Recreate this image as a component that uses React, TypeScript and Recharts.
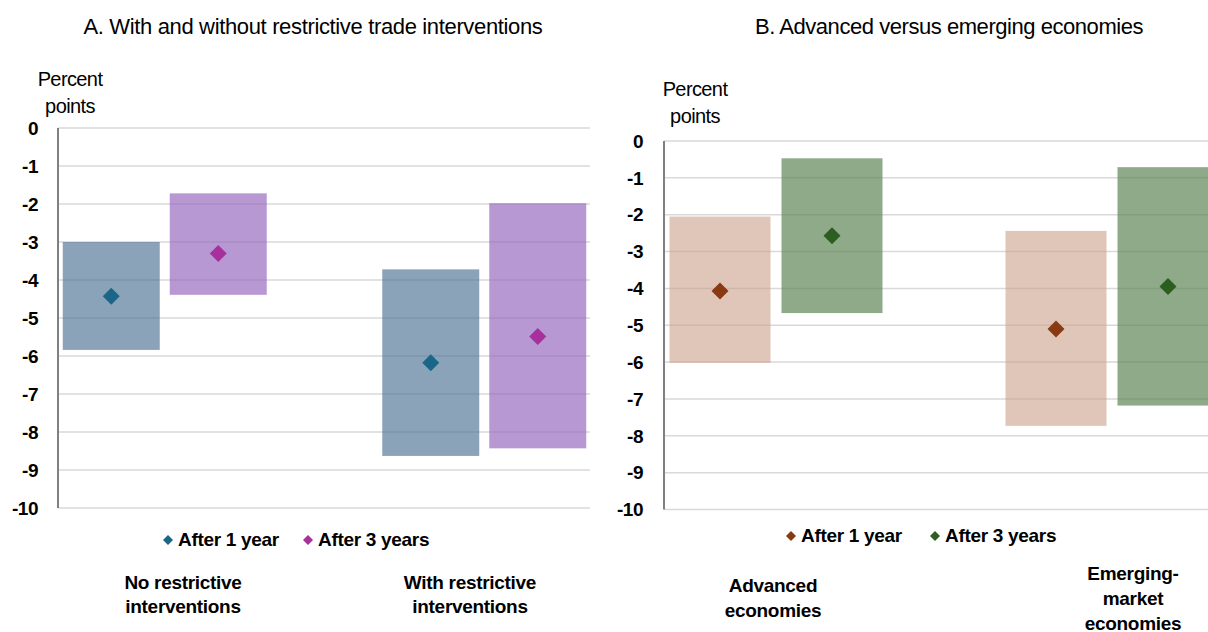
import React from 'react';
import { BarChart, Bar, XAxis, YAxis, CartesianGrid } from 'recharts';

const FONT = '"Liberation Sans", Arial, Helvetica, sans-serif';

const yTicks = [0, -1, -2, -3, -4, -5, -6, -7, -8, -9, -10];
const seriesNames = ['After 1 year', 'After 3 years'];

// Panel A
const aTitle = 'A. With and without restrictive trade interventions';
const aCategories = ['No restrictive interventions', 'With restrictive interventions'];
const aCategoryLines = [['No restrictive', 'interventions'], ['With restrictive', 'interventions']];
const aOneYearPoint = [-4.43, -6.18];
const aOneYearLow = [-5.84, -8.63];
const aOneYearHigh = [-3.0, -3.72];
const aThreeYearPoint = [-3.3, -5.49];
const aThreeYearLow = [-4.39, -8.43];
const aThreeYearHigh = [-1.72, -1.98];

// Panel B
const bTitle = 'B. Advanced versus emerging economies';
const bCategories = ['Advanced economies', 'Emerging-market economies'];
const bCategoryLines = [['Advanced', 'economies'], ['Emerging-', 'market', 'economies']];
const bOneYearPoint = [-4.07, -5.1];
const bOneYearLow = [-6.02, -7.73];
const bOneYearHigh = [-2.05, -2.44];
const bThreeYearPoint = [-2.57, -3.95];
const bThreeYearLow = [-4.67, -7.18];
const bThreeYearHigh = [-0.47, -0.71];

const yLabelLines = ['Percent', 'points'];

const buildRows = (
  cats: string[],
  p1: number[], l1: number[], h1: number[],
  p3: number[], l3: number[], h3: number[]
) =>
  cats.map((name, i) => ({
    name,
    onePt: p1[i], oneLow: l1[i], oneHigh: h1[i],
    threePt: p3[i], threeLow: l3[i], threeHigh: h3[i],
  }));

const aData = buildRows(aCategories, aOneYearPoint, aOneYearLow, aOneYearHigh, aThreeYearPoint, aThreeYearLow, aThreeYearHigh);
const bData = buildRows(bCategories, bOneYearPoint, bOneYearLow, bOneYearHigh, bThreeYearPoint, bThreeYearLow, bThreeYearHigh);

const rangeShape = (
  fill: string, opacity: number, marker: string,
  ptKey: string, lowKey: string, highKey: string, r: number
) => (props: any) => {
  const { x, y, width, height, payload } = props;
  const top = Math.min(y, y + height);
  const h = Math.abs(height);
  const lo = payload[lowKey];
  const hi = payload[highKey];
  const pt = payload[ptKey];
  const py = top + ((hi - pt) / (hi - lo)) * h;
  const cx = x + width / 2;
  return (
    <g>
      <rect x={x} y={top} width={width} height={h} fill={fill} fillOpacity={opacity} />
      <path d={`M${cx},${py - r} L${cx + r},${py} L${cx},${py + r} L${cx - r},${py} Z`} fill={marker} />
    </g>
  );
};

const tickStyle = { fontSize: 19, fontWeight: 700, fill: '#000', fontFamily: FONT, letterSpacing: -0.5 };

const Diamond = ({ color }: { color: string }) => (
  <svg width={12} height={12} style={{ display: 'block' }}>
    <path d="M6,1 L11,6 L6,11 L1,6 Z" fill={color} />
  </svg>
);

const textBase: React.CSSProperties = {
  position: 'absolute',
  fontFamily: FONT,
  color: '#000',
  whiteSpace: 'nowrap',
};

const A1 = { bar: '#4f7393', marker: '#1b6688' };
const A3 = { bar: '#9a6cc0', marker: '#a8309c' };
const B1 = { bar: '#cba08a', marker: '#8a3a12' };
const B3 = { bar: '#5f8656', marker: '#2c5e22' };

export default function App() {
  return (
    <div style={{ position: 'relative', width: 1208, height: 632, background: '#fff', overflow: 'hidden', fontFamily: FONT }}>
      <style>{`body{margin:0;}`}</style>

      {/* Titles */}
      <div style={{ ...textBase, left: 0, width: 626, top: 14, textAlign: 'center', fontSize: 22, lineHeight: '26px', letterSpacing: -0.35 }}>{aTitle}</div>
      <div style={{ ...textBase, left: 649, width: 600, top: 14, textAlign: 'center', fontSize: 22, lineHeight: '26px', letterSpacing: -0.45 }}>{bTitle}</div>

      {/* Y-axis unit labels */}
      <div style={{ ...textBase, left: 20, width: 100, top: 66, textAlign: 'center', fontSize: 20, lineHeight: '27px', letterSpacing: -0.6 }}>
        {yLabelLines.map((l) => <div key={l}>{l}</div>)}
      </div>
      <div style={{ ...textBase, left: 645, width: 100, top: 76, textAlign: 'center', fontSize: 20, lineHeight: '27px', letterSpacing: -0.6 }}>
        {yLabelLines.map((l) => <div key={l}>{l}</div>)}
      </div>

      {/* Panel A */}
      <div style={{ position: 'absolute', left: 0, top: 0 }}>
        <BarChart width={600} height={520} data={aData} margin={{ top: 128, right: 10, bottom: 12, left: 0 }} barGap={10} barSize={97}>
          <CartesianGrid horizontal vertical={false} stroke="#d9d9d9" strokeWidth={1.5} />
          <XAxis dataKey="name" type="category" hide padding={{ left: -53.25, right: -53.75 }} />
          <YAxis
            type="number"
            domain={[-10, 0]}
            ticks={yTicks}
            interval={0}
            width={58}
            axisLine={{ stroke: '#808080', strokeWidth: 2 }}
            tickLine={false}
            tickSize={0}
            tickMargin={20}
            tick={tickStyle}
          />
          <Bar
            dataKey={(d: any) => [d.oneLow, d.oneHigh]}
            name={seriesNames[0]}
            isAnimationActive={false}
            shape={rangeShape(A1.bar, 0.66, A1.marker, 'onePt', 'oneLow', 'oneHigh', 8.5)}
          />
          <Bar
            dataKey={(d: any) => [d.threeLow, d.threeHigh]}
            name={seriesNames[1]}
            isAnimationActive={false}
            shape={rangeShape(A3.bar, 0.7, A3.marker, 'threePt', 'threeLow', 'threeHigh', 8.5)}
          />
        </BarChart>
      </div>

      {/* Panel B */}
      <div style={{ position: 'absolute', left: 600, top: 0 }}>
        <BarChart width={608} height={520} data={bData} margin={{ top: 141, right: 0, bottom: 10.5, left: 0 }} barGap={11} barSize={101}>
          <CartesianGrid horizontal vertical={false} stroke="#d9d9d9" strokeWidth={1.5} />
          <XAxis dataKey="name" type="category" hide padding={{ left: -56.5, right: -71.5 }} />
          <YAxis
            type="number"
            domain={[-10, 0]}
            ticks={yTicks}
            interval={0}
            width={64}
            axisLine={{ stroke: '#808080', strokeWidth: 2 }}
            tickLine={false}
            tickSize={0}
            tickMargin={21}
            tick={tickStyle}
          />
          <Bar
            dataKey={(d: any) => [d.oneLow, d.oneHigh]}
            name={seriesNames[0]}
            isAnimationActive={false}
            shape={rangeShape(B1.bar, 0.6, B1.marker, 'onePt', 'oneLow', 'oneHigh', 8.5)}
          />
          <Bar
            dataKey={(d: any) => [d.threeLow, d.threeHigh]}
            name={seriesNames[1]}
            isAnimationActive={false}
            shape={rangeShape(B3.bar, 0.7, B3.marker, 'threePt', 'threeLow', 'threeHigh', 8.5)}
          />
        </BarChart>
      </div>

      {/* Legends */}
      {[
        { x: 162, y: 534, c: A1.marker, t: seriesNames[0] },
        { x: 302, y: 534, c: A3.marker, t: seriesNames[1] },
        { x: 785, y: 530, c: B1.marker, t: seriesNames[0] },
        { x: 929, y: 530, c: B3.marker, t: seriesNames[1] },
      ].map((it, i) => (
        <div key={i} style={{ position: 'absolute', left: it.x, top: it.y, display: 'flex', alignItems: 'center', gap: 4 }}>
          <Diamond color={it.c} />
          <span style={{ fontFamily: FONT, fontWeight: 700, fontSize: 19, letterSpacing: -0.3, lineHeight: '12px', whiteSpace: 'nowrap' }}>{it.t}</span>
        </div>
      ))}

      {/* Category labels */}
      {[
        { cx: 183, top: 571, lh: 24, lines: aCategoryLines[0] },
        { cx: 470, top: 571, lh: 24, lines: aCategoryLines[1] },
        { cx: 773, top: 573, lh: 25, lines: bCategoryLines[0] },
        { cx: 1133, top: 561, lh: 25, lines: bCategoryLines[1] },
      ].map((c, i) => (
        <div key={i} style={{ ...textBase, left: c.cx - 100, width: 200, top: c.top, textAlign: 'center', fontSize: 19, fontWeight: 700, lineHeight: `${c.lh}px`, letterSpacing: -0.3 }}>
          {c.lines.map((l) => <div key={l}>{l}</div>)}
        </div>
      ))}
    </div>
  );
}
